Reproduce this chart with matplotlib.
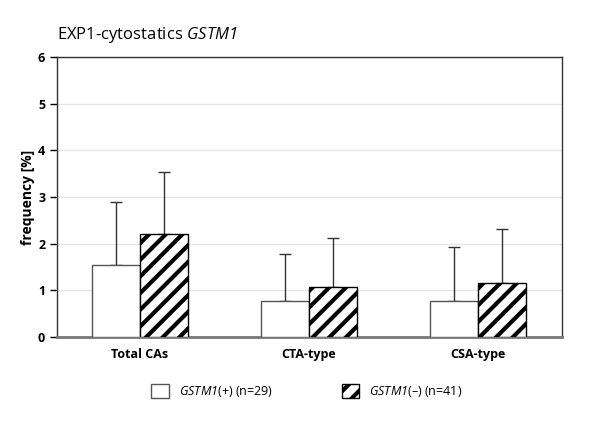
import matplotlib
matplotlib.use("Agg")
import matplotlib.pyplot as plt
import numpy as np
from matplotlib.patches import Patch

plt.rcParams['font.family'] = ['Open Sans', 'DejaVu Sans']
plt.rcParams['mathtext.fontset'] = 'custom'
plt.rcParams['mathtext.it'] = 'Open Sans:italic'
plt.rcParams['mathtext.rm'] = 'Open Sans:italic'
plt.rcParams['hatch.linewidth'] = 3.0

categories = ["Total CAs", "CTA-type", "CSA-type"]
pos_vals = [1.54, 0.78, 0.78]
pos_err = [1.35, 1.0, 1.14]
neg_vals = [2.2, 1.07, 1.15]
neg_err = [1.33, 1.05, 1.16]

fig = plt.figure(figsize=(5.9, 4.28), dpi=100)
ax = fig.add_axes([0.0966, 0.2126, 0.856, 0.654])

x = np.arange(len(categories))
w = 0.284
ax.bar(x - w/2, pos_vals, w, color='white', edgecolor='#555555', linewidth=1.0, zorder=3)
ax.errorbar(x - w/2, pos_vals, yerr=[np.zeros(3), pos_err], fmt='none', ecolor='#333333',
            elinewidth=1.0, capsize=4, capthick=1.0, zorder=2)
ax.bar(x + w/2, neg_vals, w, color='white', edgecolor='black', hatch='//', linewidth=1.0, zorder=3)
ax.errorbar(x + w/2, neg_vals, yerr=[np.zeros(3), neg_err], fmt='none', ecolor='#333333',
            elinewidth=1.0, capsize=4, capthick=1.0, zorder=2)

ax.set_xlim(-0.49, 2.5)
ax.set_ylim(0, 6)
ax.set_yticks(range(7))
ax.set_yticklabels([str(i) for i in range(7)], fontweight='bold', fontsize=9)
ax.set_xticks(x)
ax.set_xticklabels(categories, fontweight='bold', fontsize=9)
ax.tick_params(axis='x', length=0, pad=8)
ax.tick_params(axis='y', length=5, width=1, direction='out')
ax.yaxis.grid(True, color='#e6e6e6', linewidth=1.0, zorder=0)
ax.set_axisbelow(True)
for s in ['top', 'right', 'left']:
    ax.spines[s].set_color('#333333')
    ax.spines[s].set_linewidth(1.0)
ax.spines['bottom'].set_color('#777777')
ax.spines['bottom'].set_linewidth(2.0)

ax.set_ylabel("frequency [%]", fontweight='bold', fontsize=10, labelpad=2)
fig.text(0.0966, 0.895, "EXP1-cytostatics $\\mathit{GSTM1}$", fontsize=12, ha='left', va='bottom')

handles = [Patch(facecolor='white', edgecolor='#555555', linewidth=1.0),
           Patch(facecolor='white', edgecolor='black', hatch='//', linewidth=1.0)]
leg_labels = ["$\\mathit{GSTM1}$(+) (n=29)", "$\\mathit{GSTM1}$(\u2013) (n=41)"]
fig.legend(handles, leg_labels, loc='center', bbox_to_anchor=(0.52, 0.085), ncol=2,
           frameon=False, fontsize=9, handlelength=1.4, handleheight=1.4, columnspacing=5.5)

fig.savefig("out.png", dpi=100)
